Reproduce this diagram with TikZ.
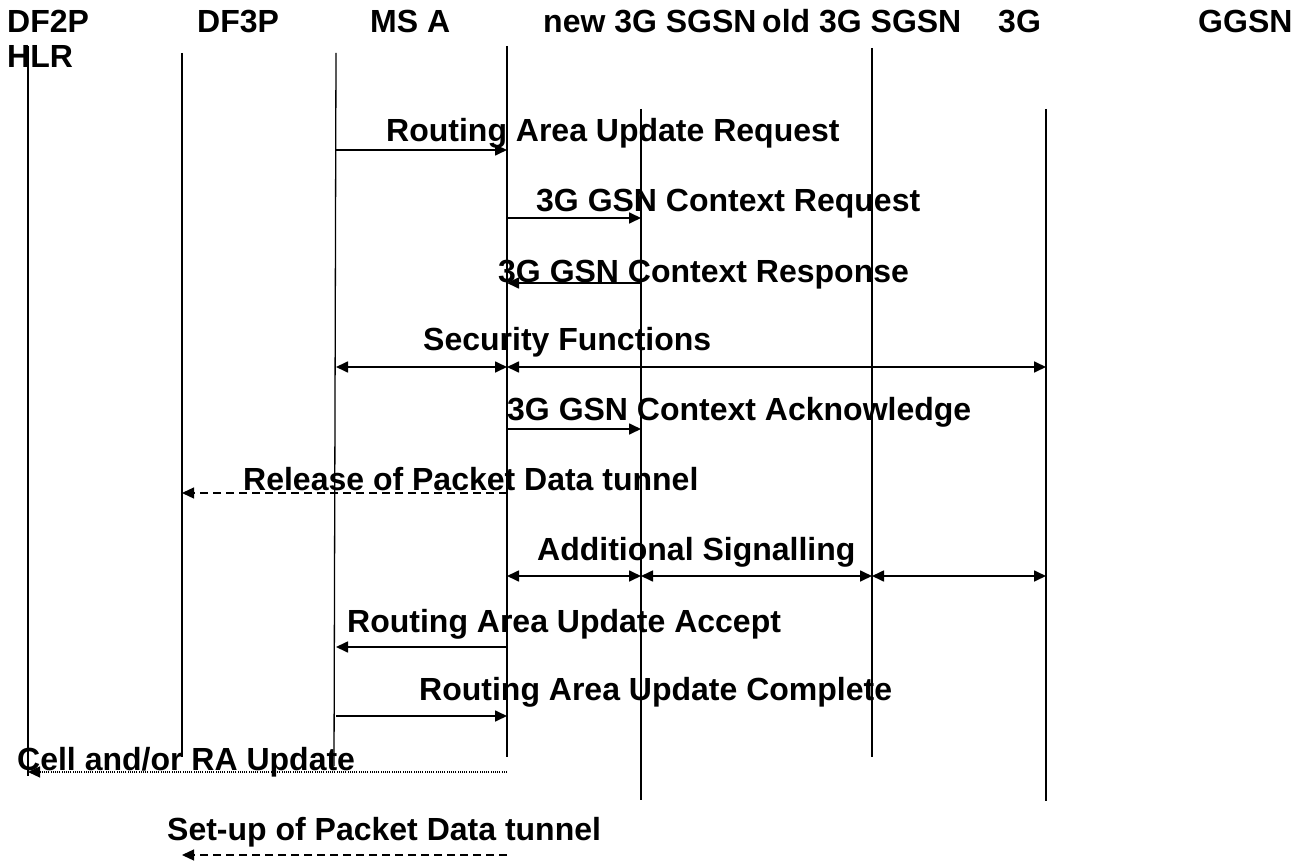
\documentclass[tikz,border=0pt]{standalone}
\usepackage{fontspec}
\setmainfont{Liberation Sans}
\usetikzlibrary{arrows.meta}
\begin{document}
\begin{tikzpicture}[x=1pt,y=-1pt,
  life/.style={line width=1.3pt},
  msg/.style={line width=1.7pt,-{Triangle[length=12pt,width=11pt]}},
  bimsg/.style={line width=1.7pt,{Triangle[length=12pt,width=11pt]}-{Triangle[length=12pt,width=11pt]}},
  dashmsg/.style={msg,line width=1.3pt,dash pattern=on 8pt off 5pt},
  dotmsg/.style={msg,line width=1.2pt,dash pattern=on 1pt off 1.2pt},
  lbl/.style={anchor=base west,inner sep=0pt,font=\fontsize{32}{38}\selectfont\bfseries}]
\useasboundingbox[fill=white] (0,0) rectangle (1304,861);

% headers
\node[lbl] (hDFtwo) at (7,33) {DF2P};
\node[lbl] (hHLR) at (7,68) {HLR};
\node[lbl] (hDFthree) at (197,33) {DF3P};
\node[lbl] (hMS) at (370,33) {MS A};
\node[lbl] (hNew) at (543,33) {new 3G SGSN};
\node[lbl] (hOld) at (762,33) {old 3G SGSN};
\node[lbl] (hThreeG) at (998,33) {3G};
\node[lbl] (hGGSN) at (1198,33) {GGSN};

% lifelines
\coordinate (Aa) at (28,46);   \coordinate (Ab) at (28,776);
\coordinate (Ba) at (182,53);  \coordinate (Bb) at (182,757);
\coordinate (Ca) at (336,53);  \coordinate (Cb) at (334,766);
\coordinate (Da) at (507,46);  \coordinate (Db) at (507,757);
\coordinate (Ea) at (641,109); \coordinate (Eb) at (641,800);
\coordinate (Fa) at (872,48);  \coordinate (Fb) at (872,757);
\coordinate (Ga) at (1046,109);\coordinate (Gb) at (1046,801);
\foreach \l in {A,B,C,D,E,F,G} \draw[life] (\l a) -- (\l b);

% message end points
\coordinate (m1s) at (336,150); \coordinate (m1e) at (507,150);
\coordinate (m2s) at (507,218); \coordinate (m2e) at (641,218);
\coordinate (m3s) at (641,283); \coordinate (m3e) at (507,283);
\coordinate (m4a) at (336,367); \coordinate (m4b) at (507,367); \coordinate (m4c) at (1046,367);
\coordinate (m5s) at (507,429); \coordinate (m5e) at (641,429);
\coordinate (m6s) at (507,493); \coordinate (m6e) at (182,493);
\coordinate (m7a) at (507,576); \coordinate (m7b) at (641,576); \coordinate (m7c) at (872,576); \coordinate (m7d) at (1046,576);
\coordinate (m8s) at (507,647); \coordinate (m8e) at (336,647);
\coordinate (m9s) at (336,716); \coordinate (m9e) at (507,716);
\coordinate (m10s) at (507,772); \coordinate (m10e) at (28,772);
\coordinate (m11s) at (507,855); \coordinate (m11e) at (182,855);

\draw[msg] (m1s) -- (m1e);
\draw[msg] (m2s) -- (m2e);
\draw[msg] (m3s) -- (m3e);
\draw[bimsg] (m4a) -- (m4b);
\draw[bimsg] (m4b) -- (m4c);
\draw[msg] (m5s) -- (m5e);
\draw[dashmsg] (m6s) -- (m6e);
\draw[bimsg] (m7a) -- (m7b);
\draw[bimsg] (m7b) -- (m7c);
\draw[bimsg] (m7c) -- (m7d);
\draw[msg] (m8s) -- (m8e);
\draw[msg] (m9s) -- (m9e);
\draw[dotmsg] (m10s) -- (m10e);
\draw[dashmsg] (m11s) -- (m11e);

% labels
\node[lbl] (t1) at (386,142) {Routing Area Update Request};
\node[lbl] (t2) at (536,212) {3G GSN Context Request};
\node[lbl] (t3) at (498,282) {3G GSN Context Response};
\node[lbl] (t4) at (423,350) {Security Functions};
\node[lbl] (t5) at (507,420) {3G GSN Context Acknowledge};
\node[lbl] (t6) at (243,490) {Release of Packet Data tunnel};
\node[lbl] (t7) at (537,560) {Additional Signalling};
\node[lbl] (t8) at (347,632) {Routing Area Update Accept};
\node[lbl] (t9) at (419,700) {Routing Area Update Complete};
\node[lbl] (t10) at (17,770) {Cell and/or RA Update};
\node[lbl] (t11) at (167,840) {Set-up of Packet Data tunnel};
\end{tikzpicture}
\end{document}
